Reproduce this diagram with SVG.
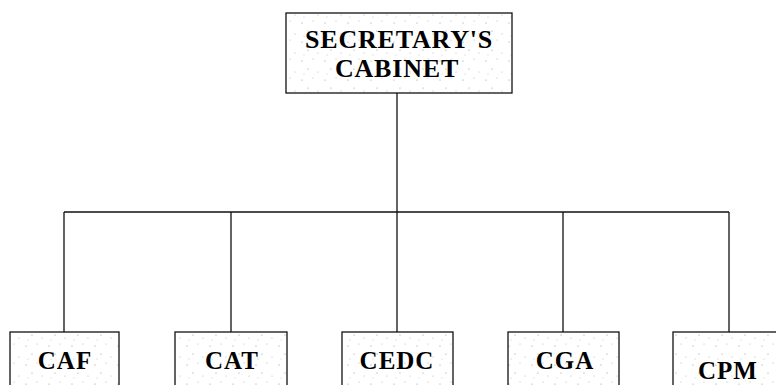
<svg xmlns="http://www.w3.org/2000/svg" width="776" height="385" viewBox="0 0 776 385">
<style>
.box{fill:url(#stip);stroke:#111;stroke-width:1.3}
.wire{fill:none;stroke:#111;stroke-width:1.3}
.lbl{font-family:"Liberation Serif","Times New Roman",serif;font-weight:bold;fill:#000;text-anchor:middle}
.top{font-size:26px;letter-spacing:0.8px}
.bot{font-size:25px;letter-spacing:1px}
</style>
<defs>
<pattern id="stip" width="23" height="19" patternUnits="userSpaceOnUse">
<rect width="23" height="19" fill="#fff"/>
<circle cx="3" cy="4" r="0.6" fill="#999"/>
<circle cx="14" cy="2" r="0.5" fill="#aaa"/>
<circle cx="9" cy="12" r="0.6" fill="#999"/>
<circle cx="19" cy="15" r="0.5" fill="#aaa"/>
<circle cx="5" cy="17" r="0.5" fill="#bbb"/>
</pattern>
</defs>
<g id="connectors">
<path class="wire" d="M397 93V212M64 212H729M64 212V332M231 212V332M397 212V332M563 212V332M729 212V332"/>
</g>
<g id="secretary">
<rect class="box" x="286" y="13" width="226" height="80"/>
<text class="lbl top" x="399" y="48">SECRETARY'S</text>
<text class="lbl top" x="397" y="77">CABINET</text>
</g>
<g id="caf">
<rect class="box" x="10" y="332" width="109" height="70"/>
<text class="lbl bot" x="65" y="369">CAF</text>
</g>
<g id="cat">
<rect class="box" x="175" y="332" width="112" height="70"/>
<text class="lbl bot" x="232" y="369">CAT</text>
</g>
<g id="cedc">
<rect class="box" x="342" y="332" width="111" height="70"/>
<text class="lbl bot" x="397" y="369">CEDC</text>
</g>
<g id="cga">
<rect class="box" x="508" y="332" width="111" height="70"/>
<text class="lbl bot" x="565" y="369">CGA</text>
</g>
<g id="cpm">
<rect class="box" x="673" y="332" width="112" height="70"/>
<text class="lbl bot" x="728" y="379">CPM</text>
</g>
</svg>
